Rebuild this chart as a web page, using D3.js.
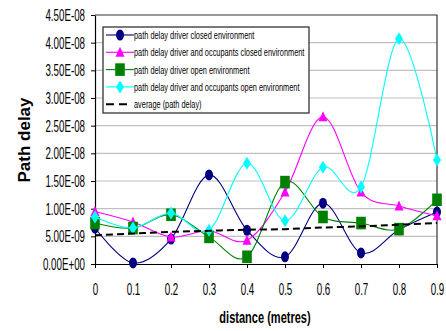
<!DOCTYPE html>
<html>
<head>
<meta charset="utf-8">
<script src="https://cdn.jsdelivr.net/npm/d3@7"></script>
<style>
  body { margin: 0; background: #fff; }
  text { font-family: "Liberation Sans", Arial, sans-serif; fill: #000; }
</style>
</head>
<body>
<svg id="chart" width="446" height="331"></svg>
<script>
/* data */
var categories = ["0", "0.1", "0.2", "0.3", "0.4", "0.5", "0.6", "0.7", "0.8", "0.9"];

var driver_closed     = [0.65e-8, 0.02e-8, 0.45e-8, 1.61e-8, 0.61e-8, 0.13e-8, 1.10e-8, 0.20e-8, 0.62e-8, 0.94e-8];
var occupants_closed  = [0.95e-8, 0.76e-8, 0.49e-8, 0.60e-8, 0.43e-8, 1.30e-8, 2.66e-8, 1.30e-8, 1.05e-8, 0.87e-8];
var driver_open       = [0.74e-8, 0.65e-8, 0.89e-8, 0.49e-8, 0.13e-8, 1.48e-8, 0.85e-8, 0.74e-8, 0.63e-8, 1.16e-8];
var occupants_open    = [0.85e-8, 0.65e-8, 0.92e-8, 0.61e-8, 1.82e-8, 0.78e-8, 1.75e-8, 1.39e-8, 4.07e-8, 1.88e-8];
var average_delay     = [0.52e-8, 0.55e-8, 0.58e-8, 0.60e-8, 0.62e-8, 0.63e-8, 0.66e-8, 0.68e-8, 0.71e-8, 0.74e-8];

var series_names = [
	"path delay driver closed environment",
	"path delay driver and occupants closed environment",
	"path delay driver open environment",
	"path delay driver and occupants open environment",
	"average (path delay)"
];

var y_ticks = [0, 0.5e-8, 1e-8, 1.5e-8, 2e-8, 2.5e-8, 3e-8, 3.5e-8, 4e-8, 4.5e-8];

/* layout */
var plot = {left: 95, right: 437, top: 15, bottom: 264};

var svg = d3.select("#chart");

var x = d3.scalePoint().domain(categories).range([plot.left, plot.right]).padding(0);
var y = d3.scaleLinear().domain([0, 4.5e-8]).range([plot.bottom, plot.top]);

// Excel style scientific labels, e.g. 4.50E-08
function sci(v){
	var parts = v.toExponential(2).toUpperCase().split("E");
	var sign = parts[1].charAt(0);
	var exp = parts[1].slice(1);
	if(exp.length < 2) exp = "0" + exp;
	return parts[0] + "E" + sign + exp;
}

// gridlines
svg.append("g")
	.selectAll("line")
	.data(y_ticks.slice(1, -1))
	.enter().append("line")
	.attr("x1", plot.left).attr("x2", plot.right)
	.attr("y1", function(d){ return y(d); })
	.attr("y2", function(d){ return y(d); })
	.attr("stroke", "#c0c0c0")
	.attr("stroke-width", 1.2);

// plot frame top / right
svg.append("path")
	.attr("d", "M" + plot.left + "," + plot.top + "H" + plot.right + "V" + plot.bottom)
	.attr("fill", "none")
	.attr("stroke", "#333")
	.attr("stroke-width", 1.2);

// y axis
var y_axis = svg.append("g")
	.attr("transform", "translate(" + plot.left + ",0)")
	.call(d3.axisLeft(y).tickValues(y_ticks).tickFormat(sci).tickSize(4).tickSizeOuter(0));

y_axis.select(".domain").attr("stroke", "#000").attr("stroke-width", 1.2);
y_axis.selectAll(".tick line").attr("stroke", "#000");
y_axis.selectAll(".tick text")
	.attr("x", null).attr("dy", null)
	.attr("font-size", 16)
	.attr("font-family", "Liberation Sans, Arial, sans-serif")
	.attr("text-anchor", "end")
	.attr("transform", "translate(-10,5.5) scale(0.61,1)");

// x axis
var x_axis = svg.append("g")
	.attr("transform", "translate(0," + plot.bottom + ")")
	.call(d3.axisBottom(x).tickSize(4).tickSizeOuter(0));

x_axis.select(".domain").attr("stroke", "#000").attr("stroke-width", 1.2);
x_axis.selectAll(".tick line").attr("stroke", "#000");
x_axis.selectAll(".tick text")
	.attr("y", null).attr("dy", null)
	.attr("font-size", 16)
	.attr("font-family", "Liberation Sans, Arial, sans-serif")
	.attr("text-anchor", "middle")
	.attr("transform", "translate(0,31) scale(0.61,1)");

// axis titles
svg.append("text")
	.attr("transform", "translate(30,140) rotate(-90)")
	.attr("text-anchor", "middle")
	.attr("font-size", 17)
	.attr("font-weight", "bold")
	.text("Path delay");

svg.append("text")
	.attr("transform", "translate(265,323) scale(0.69,1)")
	.attr("text-anchor", "middle")
	.attr("font-size", 16)
	.attr("font-weight", "bold")
	.text("distance (metres)");

/* markers: Excel picture is squeezed horizontally, so markers are tall */
function draw_marker(g, type, color){
	if(type == "circle"){
		g.append("ellipse").attr("rx", 4).attr("ry", 5.5).attr("fill", color);
	} else if(type == "triangle"){
		g.append("path").attr("d", "M0,-5.5L4.5,4.5L-4.5,4.5Z").attr("fill", color);
	} else if(type == "square"){
		g.append("rect").attr("x", -4.8).attr("y", -6.3).attr("width", 9.6).attr("height", 12.6).attr("fill", color);
	} else if(type == "diamond"){
		g.append("path").attr("d", "M0,-6.5L4,0L0,6.5L-4,0Z").attr("fill", color);
	}
}

var series = [
	{values: driver_closed,    color: "#000080", marker: "circle"},
	{values: occupants_closed, color: "#ff00ff", marker: "triangle"},
	{values: driver_open,      color: "#008000", marker: "square"},
	{values: occupants_open,   color: "#00ffff", marker: "diamond"},
	{values: average_delay,    color: "#000000", marker: null, dash: "7,4", width: 2}
];

var line = d3.line()
	.x(function(d, i){ return x(categories[i]); })
	.y(function(d){ return y(d); })
	.curve(d3.curveCardinal.tension(0));

series.forEach(function(s){
	var g = svg.append("g");
	g.append("path")
		.attr("d", line(s.values))
		.attr("fill", "none")
		.attr("stroke", s.color)
		.attr("stroke-width", s.width || 1.1)
		.attr("stroke-dasharray", s.dash || null);

	if(s.marker){
		g.selectAll("g")
			.data(s.values)
			.enter().append("g")
			.attr("transform", function(d, i){ return "translate(" + x(categories[i]) + "," + y(d) + ")"; })
			.each(function(){ draw_marker(d3.select(this), s.marker, s.color); });
	}
});

// legend
var legend = svg.append("g").attr("transform", "translate(103,27)");

legend.append("rect")
	.attr("x", 0).attr("y", 0)
	.attr("width", 206).attr("height", 86)
	.attr("fill", "#fff")
	.attr("stroke", "#333")
	.attr("stroke-width", 1.3);

series.forEach(function(s, i){
	var row = legend.append("g").attr("transform", "translate(0," + (8 + i * 17.3) + ")");
	row.append("line")
		.attr("x1", 3).attr("x2", s.dash ? 29 : 31)
		.attr("y1", 0).attr("y2", 0)
		.attr("stroke", s.color)
		.attr("stroke-width", s.width || 1.1)
		.attr("stroke-dasharray", s.dash ? "8,5" : null);
	if(s.marker){
		draw_marker(row.append("g").attr("transform", "translate(17,0)"), s.marker, s.color);
	}
	row.append("text")
		.attr("transform", "translate(31,4) scale(0.67,1)")
		.attr("font-size", 11)
		.text(series_names[i]);
});
</script>
</body>
</html>
